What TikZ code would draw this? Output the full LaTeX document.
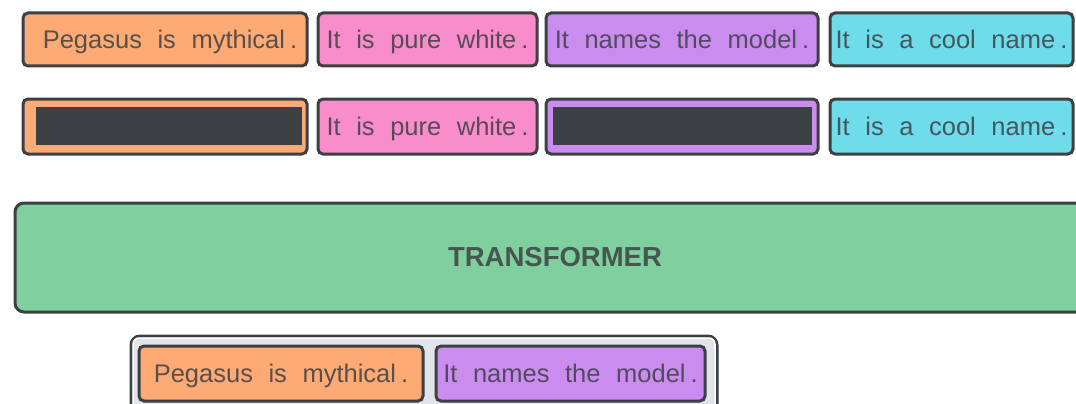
\documentclass[tikz,border=0pt]{standalone}
\usepackage{fontspec}
\setmainfont{Liberation Sans}[WordSpace=2.2]
\definecolor{ink}{HTML}{3C4043}
\definecolor{segorange}{HTML}{FDAA74}
\definecolor{segpink}{HTML}{F98DCB}
\definecolor{segpurple}{HTML}{CB8CF0}
\definecolor{segcyan}{HTML}{6FDCEB}
\definecolor{trgreen}{HTML}{7FD09E}
\definecolor{batchgray}{HTML}{E1E4E8}
% token gap before the full stop
\newcommand{\stopgap}{\hspace{5pt}}
\begin{document}
\begin{tikzpicture}[x=1pt,y=-1pt,
  seg/.style={draw=ink, line width=3pt, rounded corners=5pt, inner sep=0pt,
    anchor=north west, minimum height=#1,
    font=\fontsize{25.5}{30}\selectfont, text height=18pt, text depth=0pt},
  orangeseg/.style={seg=#1, fill=segorange, text=ink!85!segorange},
  pinkseg/.style={seg=#1, fill=segpink, text=ink!85!segpink},
  purpleseg/.style={seg=#1, fill=segpurple, text=ink!85!segpurple},
  cyanseg/.style={seg=#1, fill=segcyan, text=ink!85!segcyan},
  maskbar/.style={fill=ink, inner sep=0pt, anchor=north west, minimum height=38pt},
]
\useasboundingbox (0,0) rectangle (1076,404);
\clip (0,0) rectangle (1076,404);

% first row: four full sentences
\node[orangeseg=53pt, minimum width=284pt] (a1) at (21.5,11.5) {\hspace{10pt}Pegasus is mythical\stopgap.};
\node[pinkseg=53pt, minimum width=219pt] (b1) at (316.5,11.5) {It is pure white\stopgap.};
\node[purpleseg=53pt, minimum width=272pt] (c1) at (544.5,11.5) {It names the model\stopgap.};
\node[cyanseg=53pt, minimum width=243pt] (d1) at (828.5,11.5) {It is a cool name\stopgap.};

% second row: two sentences masked out
\node[orangeseg=55pt, minimum width=284pt] (a2) at (21.5,97.5) {};
\node[pinkseg=55pt, minimum width=219pt] (b2) at (316.5,97.5) {It is pure white\stopgap.};
\node[purpleseg=55pt, minimum width=272pt] (c2) at (544.5,97.5) {};
\node[cyanseg=55pt, minimum width=243pt] (d2) at (828.5,97.5) {It is a cool name\stopgap.};
\node[maskbar, minimum width=266pt] (ma) at (36,107) {};
\node[maskbar, minimum width=259pt] (mc) at (553,107) {};

% the model
\node[draw=ink, line width=3pt, rounded corners=9pt, fill=trgreen,
  anchor=north west, minimum width=1080pt, minimum height=109pt,
  font=\fontsize{27.5}{32}\selectfont\bfseries, text=ink!85!trgreen]
  (tr) at (13.5,201.5) {TRANSFORMER};

% predicted pair
\node[draw=ink, line width=3pt, rounded corners=9pt, fill=batchgray,
  anchor=north west, minimum width=586pt, minimum height=80pt] (out) at (129.5,334.5) {};
\draw[white, line width=1.5pt, rounded corners=6pt] ([shift={(3.5,3.5)}]out.north west) rectangle ([shift={(-3.5,-3.5)}]out.south east);
\node[orangeseg=55pt, minimum width=284pt] (pa) at (137.5,344.5) {Pegasus is mythical\stopgap.};
\node[purpleseg=55pt, minimum width=269pt] (pc) at (434.5,344.5) {It names the model\stopgap.};
\end{tikzpicture}
\end{document}
